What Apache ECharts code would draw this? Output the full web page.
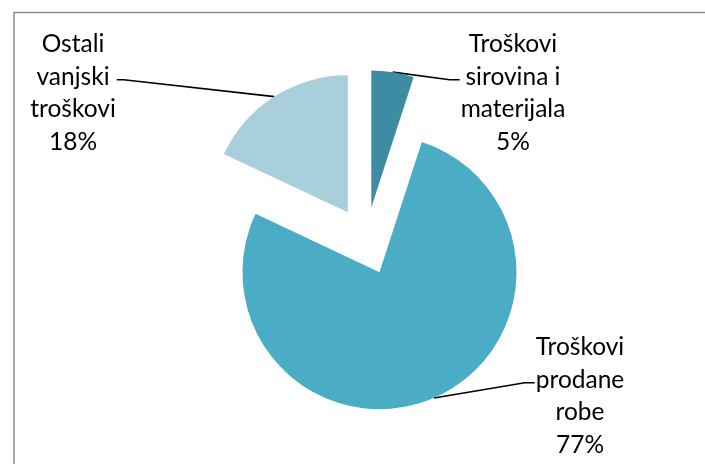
<!DOCTYPE html>
<html>
<head>
<meta charset="utf-8">
<style>
html, body { margin: 0; padding: 0; background: #fff; }
#chart { width: 705px; height: 464px; }
</style>
</head>
<body>
<div id="chart"></div>
<script src="https://cdn.jsdelivr.net/npm/echarts@6/dist/echarts.min.js"></script>
<script>
// podaci
var categories = ["Troškovi\nsirovina i\nmaterijala", "Troškovi\nprodane\nrobe", "Ostali\nvanjski\ntroškovi"];
var values = [5, 77, 18];
var colors = ["#3d8ca3", "#4bacc6", "#aacfdc"];
// centri natpisa
var labelPos = [[513, 93], [580, 396], [73, 93]];

var BASE = [366, 241];
var R = 137;
var OFFSET = 34;
var LINE_H = 32.5;

var total = values.reduce(function (a, b) { return a + b; }, 0);

// izvučeni isječak: pomak središta po srednjem kutu
function sliceCenter(k) {
  var before = 0;
  for (var j = 0; j < k; j++) before += values[j];
  var mid = (before + values[k] / 2) / total * 2 * Math.PI;
  return [BASE[0] + Math.sin(mid) * OFFSET, BASE[1] - Math.cos(mid) * OFFSET];
}

function layoutLabel(p) {
  // skriveni natpisi nemaju liniju
  if (!p.labelLinePoints || p.dataIndex !== p.seriesIndex) return {};
  var pos = labelPos[p.dataIndex];
  var w = p.labelRect.width;
  var start = p.labelLinePoints[0];
  var right = pos[0] > start[0];
  var ex = right ? pos[0] - w / 2 - 1 : pos[0] + w / 2 + 1;
  var ey = pos[1] - LINE_H * 0.5 + 3;
  return {
    x: pos[0],
    y: pos[1],
    align: "center",
    verticalAlign: "middle",
    labelLinePoints: [start, [right ? ex - 10 : ex + 7, ey], [ex, ey]]
  };
}

var myChart = echarts.init(document.getElementById("chart"));
myChart.setOption({
  animation: false,
  graphic: [
    {
      type: "rect",
      silent: true,
      shape: { x: 14, y: 12.5, width: 800, height: 600 },
      style: { fill: null, stroke: "#8a8a8a", lineWidth: 1.5 }
    }
  ],
  series: values.map(function (_, k) {
    return {
      type: "pie",
      center: sliceCenter(k),
      radius: R,
      startAngle: 90,
      clockwise: true,
      silent: true,
      avoidLabelOverlap: false,
      label: {
        position: "outside",
        formatter: "{b}\n{c}%",
        color: "#000",
        fontFamily: "Lato",
        fontSize: 24.5,
        lineHeight: LINE_H,
        align: "center"
      },
      labelLine: {
        length: 20,
        length2: 10,
        lineStyle: { color: "#000", width: 1.6 }
      },
      labelLayout: layoutLabel,
      emphasis: { disabled: true },
      itemStyle: { borderWidth: 0 },
      data: values.map(function (v, i) {
        var own = i === k;
        return {
          name: categories[i],
          value: v,
          itemStyle: { color: own ? colors[i] : "rgba(0,0,0,0)" },
          label: { show: own },
          labelLine: { show: own }
        };
      })
    };
  })
});
</script>
</body>
</html>
